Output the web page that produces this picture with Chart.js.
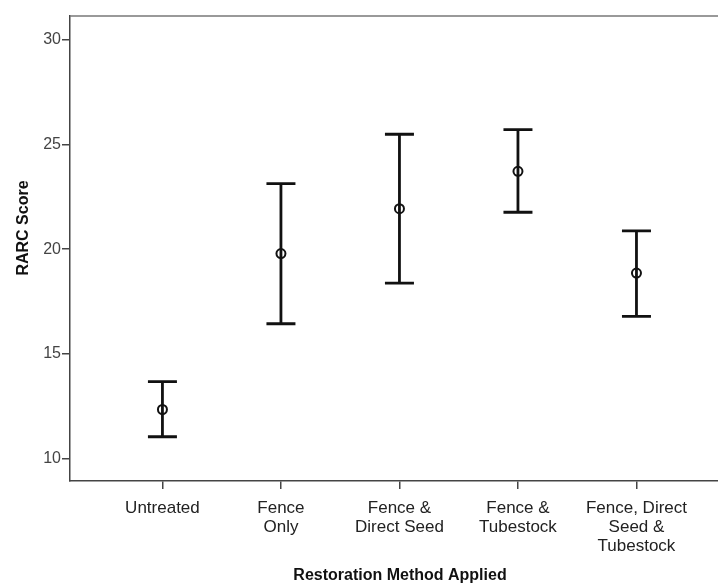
<!DOCTYPE html>
<html>
<head>
<meta charset="utf-8">
<script src="https://cdn.jsdelivr.net/npm/chart.js@4"></script>
<style>
  html, body { margin: 0; padding: 0; background: #fff; overflow: hidden; }
  canvas { display: block; }
</style>
</head>
<body>
<canvas id="rarcChart" width="718" height="584"></canvas>
<script>
const categories = [
    'Untreated',
    ['Fence', 'Only'],
    ['Fence &', 'Direct Seed'],
    ['Fence &', 'Tubestock'],
    ['Fence, Direct', 'Seed &', 'Tubestock']
];
const means = [12.35, 19.79, 21.93, 23.71, 18.86];
const upper = [13.68, 23.12, 25.48, 25.70, 20.87];
const lower = [11.05, 16.44, 18.38, 21.76, 16.79];
const yTicks = [10, 15, 20, 25, 30];

const xTitle = 'Restoration Method Applied';
const yTitle = 'RARC Score';
const fontName = '"Liberation Sans", Arial, sans-serif';

// error bars + top frame line + axis titles
const extras = {
    id: 'extras',
    beforeDatasetsDraw(chart) {
        const ctx = chart.ctx;
        const xs = chart.scales.x, ys = chart.scales.y;
        ctx.save();
        ctx.strokeStyle = '#111';
        ctx.lineWidth = 2.8;
        ctx.lineCap = 'butt';
        for (let i = 0; i < means.length; i++) {
            const x = xs.getPixelForValue(i);
            const yt = ys.getPixelForValue(upper[i]);
            const yb = ys.getPixelForValue(lower[i]);
            ctx.beginPath();
            ctx.moveTo(x, yt); ctx.lineTo(x, yb);
            ctx.moveTo(x - 14.5, yt); ctx.lineTo(x + 14.5, yt);
            ctx.moveTo(x - 14.5, yb); ctx.lineTo(x + 14.5, yb);
            ctx.stroke();
        }
        ctx.restore();
    },
    afterDraw(chart) {
        const ctx = chart.ctx;
        const a = chart.chartArea;
        ctx.save();
        ctx.strokeStyle = '#777';
        ctx.lineWidth = 1.5;
        ctx.beginPath();
        ctx.moveTo(a.left, a.top);
        ctx.lineTo(a.right, a.top);
        ctx.stroke();

        ctx.fillStyle = '#111';
        ctx.font = 'bold 16px ' + fontName;
        ctx.textAlign = 'center';
        ctx.textBaseline = 'middle';
        ctx.fillText(xTitle, 400, 576);
        ctx.translate(23.5, 228);
        ctx.rotate(-Math.PI / 2);
        ctx.fillText(yTitle, 0, 0);
        ctx.restore();
    }
};

const ctx = document.getElementById('rarcChart').getContext('2d');
const chart = new Chart(ctx, {
    type: 'scatter',
    data: {
        datasets: [{
            data: means.map((m, i) => ({ x: i, y: m })),
            pointStyle: 'circle',
            pointRadius: 4.5,
            pointBorderWidth: 2,
            borderColor: '#111',
            backgroundColor: 'rgba(0,0,0,0)'
        }]
    },
    options: {
        responsive: false,
        animation: false,
        layout: { autoPadding: false, padding: { top: 16, left: 0, right: 0, bottom: 0 } },
        plugins: {
            legend: { display: false },
            tooltip: { enabled: false }
        },
        scales: {
            x: {
                type: 'linear',
                min: -0.78,
                max: 4.688,
                afterBuildTicks: (axis) => { axis.ticks = categories.map((c, i) => ({ value: i })); },
                afterFit: (axis) => {
                    axis.height = 103;
                    axis.paddingLeft = 0;
                    axis.paddingRight = 0;
                },
                grid: { drawOnChartArea: false, drawTicks: true, tickLength: 8, color: '#444', lineWidth: 1.5 },
                border: { display: true, color: '#444', width: 1.5 },
                ticks: {
                    padding: 10,
                    maxRotation: 0,
                    autoSkip: false,
                    color: '#222',
                    font: { family: fontName, size: 17, lineHeight: 1.12 },
                    callback: (v) => categories[v]
                }
            },
            y: {
                min: 8.94,
                max: 31.12,
                afterBuildTicks: (axis) => { axis.ticks = yTicks.map(v => ({ value: v })); },
                afterFit: (axis) => {
                    axis.width = 70;
                    axis.paddingTop = 0;
                    axis.paddingBottom = 0;
                },
                grid: { drawOnChartArea: false, drawTicks: true, tickLength: 8, color: '#444', lineWidth: 1.5 },
                border: { display: true, color: '#444', width: 1.5 },
                ticks: {
                    padding: 1,
                    color: '#444',
                    font: { family: fontName, size: 16 }
                }
            }
        }
    },
    plugins: [extras]
});
</script>
</body>
</html>
